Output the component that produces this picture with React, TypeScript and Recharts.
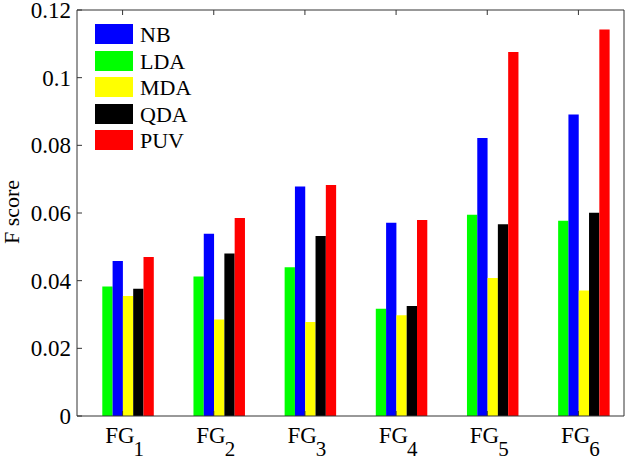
import React from 'react';
import { BarChart, Bar, XAxis, YAxis, Legend } from 'recharts';

const categories = ['1', '2', '3', '4', '5', '6'];
const nb = [0.0458, 0.0539, 0.0678, 0.0571, 0.0822, 0.0891];
const lda = [0.0383, 0.0412, 0.044, 0.0317, 0.0595, 0.0577];
const mda = [0.0355, 0.0285, 0.0278, 0.0298, 0.0408, 0.0371];
const qda = [0.0376, 0.048, 0.0532, 0.0325, 0.0567, 0.0601];
const puv = [0.047, 0.0585, 0.0683, 0.0579, 0.1076, 0.1142];
const yTicks = [0, 0.02, 0.04, 0.06, 0.08, 0.1, 0.12];

const legendItems = [
  { name: 'NB', color: '#0000ff' },
  { name: 'LDA', color: '#00ff00' },
  { name: 'MDA', color: '#ffff00' },
  { name: 'QDA', color: '#000000' },
  { name: 'PUV', color: '#ff0000' },
];

const data = categories.map((c, i) => ({
  name: c,
  NB: nb[i],
  LDA: lda[i],
  MDA: mda[i],
  QDA: qda[i],
  PUV: puv[i],
  pad: null,
}));

const FONT = "'Liberation Serif', 'Times New Roman', serif";

const FGTick = (props: any) => {
  const { x, y, payload } = props;
  return (
    <text x={x + 2} y={y + 27} textAnchor="middle" style={{ fontFamily: FONT }} fontSize={23} fill="#000">
      <tspan>FG</tspan>
      <tspan dx={-1} dy={13} fontSize={21}>{payload.value}</tspan>
    </text>
  );
};

const YTick = (props: any) => {
  const { x, y, payload } = props;
  return (
    <text x={x} y={y + 8} textAnchor="end" style={{ fontFamily: FONT }} fontSize={23} fill="#000">
      {String(payload.value)}
    </text>
  );
};

const Empty = () => <g />;

const LegendContent = () => (
  <div style={{ fontFamily: FONT, fontSize: 22, color: '#000' }}>
    {legendItems.map((it) => (
      <div key={it.name} style={{ display: 'flex', alignItems: 'center', height: 20, marginBottom: 6.6 }}>
        <div style={{ width: 38, height: 20, background: it.color }} />
        <span style={{ marginLeft: 7, lineHeight: '20px', position: 'relative', top: 1 }}>{it.name}</span>
      </div>
    ))}
  </div>
);

const YLabel = () => (
  <text x={14} y={212} transform="rotate(-90 14 212)" textAnchor="middle" dominantBaseline="middle" style={{ fontFamily: FONT }} fontSize={22} fill="#000">
    F score
  </text>
);

export default function App() {
  const axisColor = '#333';
  return (
    <div style={{ position: 'absolute', left: 0, top: 0, background: '#fff', fontFamily: FONT }}>
      <BarChart
        width={630}
        height={461}
        data={data}
        margin={{ top: 9, right: 5, bottom: 0, left: 0 }}
        barGap={0}
        barSize={10.3}
        style={{ fontFamily: FONT }}
      >
        <XAxis
          dataKey="name"
          xAxisId={0}
          orientation="bottom"
          height={45}
          tickSize={-5}
          tickMargin={5}
          stroke={axisColor}
          tick={<FGTick />}
          interval={0}
        />
        <XAxis
          dataKey="name"
          xAxisId="top"
          orientation="top"
          height={1}
          tickSize={-5}
          stroke={axisColor}
          tick={<Empty />}
          interval={0}
        />
        <YAxis
          yAxisId={0}
          width={77}
          domain={[0, 0.12]}
          ticks={yTicks}
          tickSize={-5}
          tickMargin={11}
          stroke={axisColor}
          tick={<YTick />}
          interval={0}
          label={<YLabel />}
        />
        <YAxis
          yAxisId="right"
          orientation="right"
          width={1}
          domain={[0, 0.12]}
          ticks={yTicks}
          tickSize={-5}
          stroke={axisColor}
          tick={<Empty />}
          interval={0}
        />
        <Legend
          layout="vertical"
          align="center"
          verticalAlign="middle"
          content={<LegendContent />}
          wrapperStyle={{ left: 95, top: 24, width: 'auto', bottom: 'auto' }}
        />
        <Bar dataKey="pad" fill="transparent" isAnimationActive={false} legendType="none" />
        <Bar dataKey="LDA" fill="#00ff00" isAnimationActive={false} />
        <Bar dataKey="NB" fill="#0000ff" isAnimationActive={false} />
        <Bar dataKey="MDA" fill="#ffff00" isAnimationActive={false} />
        <Bar dataKey="QDA" fill="#000000" isAnimationActive={false} />
        <Bar dataKey="PUV" fill="#ff0000" isAnimationActive={false} />
      </BarChart>
    </div>
  );
}
